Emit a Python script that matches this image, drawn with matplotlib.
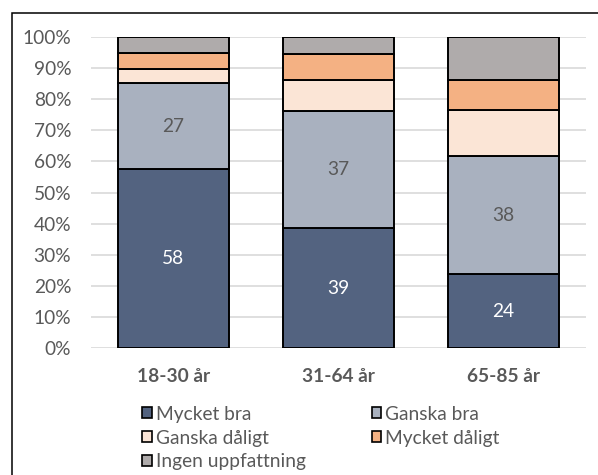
import numpy as np
import matplotlib
matplotlib.use('Agg')
import matplotlib.pyplot as plt
from matplotlib.patches import Rectangle, Patch
from matplotlib.ticker import PercentFormatter

plt.rcParams['font.family'] = ['Lato', 'DejaVu Sans']

# data (percent)
groups = ['18-30 år', '31-64 år', '65-85 år']
series = ['Mycket bra', 'Ganska bra', 'Ganska dåligt', 'Mycket dåligt', 'Ingen uppfattning']
mycket_bra = [57.5, 38.7, 23.7]
ganska_bra = [27.6, 37.5, 37.9]
ganska_daligt = [4.5, 9.9, 14.9]
mycket_daligt = [5.2, 8.2, 9.6]
ingen = [5.2, 5.7, 13.9]
labels_mb = ['58', '39', '24']
labels_gb = ['27', '37', '38']

colors = ['#536380', '#A9B1BF', '#FBE5D6', '#F4B183', '#AFABAB']
txt = '#595959'
fs = 13.8

fig = plt.figure(figsize=(5.98, 4.75), dpi=100)
ax = fig.add_axes([0.1517, 0.2667, 0.828, 0.656])

x = np.arange(len(groups))
vals = [mycket_bra, ganska_bra, ganska_daligt, mycket_daligt, ingen]
bottom = np.zeros(len(groups))
bars = []
for v, c, name in zip(vals, colors, series):
    v = np.array(v) / 100
    b = ax.bar(x, v, 0.67, bottom=bottom, color=c, edgecolor='black', linewidth=1.4,
               label=name, zorder=3)
    bars.append(b)
    bottom += v

ax.bar_label(bars[0], labels=labels_mb, label_type='center', color='white', fontsize=fs)
ax.bar_label(bars[1], labels=labels_gb, label_type='center', color=txt, fontsize=fs)

ax.set_xlim(-0.5, 2.5)
ax.set_ylim(0, 1)
ax.set_yticks(np.arange(0, 1.01, 0.1))
ax.yaxis.set_major_formatter(PercentFormatter(1.0, decimals=0))
ax.set_xticks(x)
ax.set_xticklabels(groups, fontweight='bold')
ax.tick_params(axis='y', length=0, pad=14, labelsize=fs, labelcolor=txt)
ax.tick_params(axis='x', length=0, pad=14, labelsize=fs, labelcolor=txt)
ax.grid(axis='y', color='#D9D9D9', linewidth=1.2, zorder=0)
for s in ax.spines.values():
    s.set_visible(False)

h = [Patch(facecolor=c, edgecolor='black', linewidth=1.2) for c in colors]
order = [0, 2, 4, 1, 3]
leg = fig.legend([h[i] for i in order], [series[i] for i in order], ncol=2,
                 loc='upper left', bbox_to_anchor=(0.238, 0.146), frameon=False,
                 fontsize=fs, handlelength=0.5, handleheight=0.5,
                 handletextpad=0.2, labelspacing=0.36, columnspacing=3.45,
                 borderaxespad=0, borderpad=0)
for t in leg.get_texts():
    t.set_color(txt)

fig.patches.append(Rectangle((12 / 598, -0.1), 1.1, (475 - 13) / 475 + 0.1,
                             transform=fig.transFigure, fill=False,
                             edgecolor='black', linewidth=1.1))

fig.savefig('out.png', dpi=100)
